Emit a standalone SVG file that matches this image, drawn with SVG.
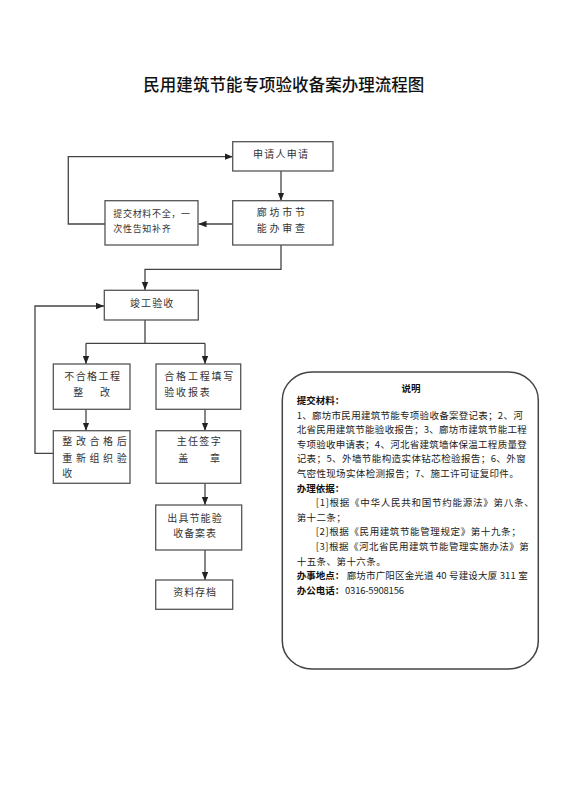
<svg xmlns="http://www.w3.org/2000/svg" width="565" height="800" viewBox="0 0 565 800">
<style>
text{font-family:"Noto Sans CJK SC","Noto Sans",sans-serif;fill:#333}
.t{font-size:16.5px;fill:#111;font-weight:500}
.b{font-size:10px}
.s{font-size:9px}
.n{font-size:9.5px;fill:#222}
.nb{font-size:9.5px;fill:#111;font-weight:bold}
.box{fill:#fff;stroke:#555;stroke-width:1.3}
.ln{fill:none;stroke:#444;stroke-width:1.3}
</style>
<defs>
<marker id="ah" viewBox="0 0 8 8" refX="8" refY="4" markerWidth="8" markerHeight="8" markerUnits="userSpaceOnUse" orient="auto">
<path d="M0,0.8 L8,4 L0,7.2 Z" fill="#222"/>
</marker>
</defs>
<rect width="565" height="800" fill="#fff"/>
<text class="t" x="143.3" y="91" textLength="281" lengthAdjust="spacing">民用建筑节能专项验收备案办理流程图</text>

<g id="connectors">
<path class="ln" d="M281,171 V200.7" marker-end="url(#ah)"/>
<path class="ln" d="M233,224 H198.5" marker-end="url(#ah)"/>
<path class="ln" d="M105,224 H68.3 V156.7 H232.7" marker-end="url(#ah)"/>
<path class="ln" d="M281,245 V269.3 H145 V290" marker-end="url(#ah)"/>
<path class="ln" d="M145,320 V343.3 M86,343.3 H205"/>
<path class="ln" d="M86,343.3 V364" marker-end="url(#ah)"/>
<path class="ln" d="M205,343.3 V364" marker-end="url(#ah)"/>
<path class="ln" d="M86,409.3 V430.7" marker-end="url(#ah)"/>
<path class="ln" d="M205,409.3 V430.7" marker-end="url(#ah)"/>
<path class="ln" d="M53.3,453.3 H35 V306 H104" marker-end="url(#ah)"/>
<path class="ln" d="M205,483.3 V505" marker-end="url(#ah)"/>
<path class="ln" d="M205,550 V580" marker-end="url(#ah)"/>
</g>

<g id="n-apply">
<rect class="box" x="232.7" y="141.7" width="100.3" height="29.3"/>
<text class="b" x="253" y="157.8" letter-spacing="1.25">申请人申请</text>
</g>
<g id="n-review">
<rect class="box" x="232.7" y="200.7" width="100.3" height="44.3"/>
<text class="b" x="256.7" y="216" letter-spacing="2.8">廊坊市节</text>
<text class="b" x="256.7" y="232.3" letter-spacing="2.8">能办审查</text>
</g>
<g id="n-supplement">
<rect class="box" x="105" y="200.7" width="93" height="44.3"/>
<text class="s" x="113.3" y="216.7" letter-spacing="0.67">提交材料不全，一</text>
<text class="s" x="113.3" y="231.7" letter-spacing="0.67">次性告知补齐</text>
</g>
<g id="n-acceptance">
<rect class="box" x="104.3" y="290.3" width="94" height="29.7"/>
<text class="b" x="130" y="306.5" letter-spacing="1.1">竣工验收</text>
</g>
<g id="n-fail">
<rect class="box" x="53.3" y="364" width="76.7" height="45.3"/>
<text class="b" x="64.3" y="379.8" letter-spacing="1.4">不合格工程</text>
<text class="b" x="73.3" y="395.5">整</text>
<text class="b" x="100" y="395.5">改</text>
</g>
<g id="n-pass">
<rect class="box" x="156" y="364" width="84.7" height="45.3"/>
<text class="b" x="164.3" y="379.8" letter-spacing="1.8">合格工程填写</text>
<text class="b" x="164.3" y="395.5" letter-spacing="1.8">验收报表</text>
</g>
<g id="n-rectify">
<rect class="box" x="53.3" y="430.7" width="76.7" height="52.6"/>
<text class="b" x="62.3" y="444.8" letter-spacing="3.6">整改合格后</text>
<text class="b" x="62.3" y="462" letter-spacing="3.6">重新组织验</text>
<text class="b" x="62.3" y="477" letter-spacing="3.6">收</text>
</g>
<g id="n-sign">
<rect class="box" x="156" y="430.7" width="84.7" height="52.6"/>
<text class="b" x="176.7" y="444.8" letter-spacing="1.33">主任签字</text>
<text class="b" x="178.3" y="462">盖</text>
<text class="b" x="210" y="462">章</text>
</g>
<g id="n-issue">
<rect class="box" x="155.7" y="505" width="86" height="45"/>
<text class="b" x="167.3" y="522" letter-spacing="1.1">出具节能验</text>
<text class="b" x="173.3" y="536.5" letter-spacing="0.9">收备案表</text>
</g>
<g id="n-archive">
<rect class="box" x="155.7" y="580" width="77" height="29.3"/>
<text class="b" x="173.3" y="595.5" letter-spacing="0.9">资料存档</text>
</g>

<g id="n-notes">
<rect x="282.3" y="372" width="256" height="297" rx="30" ry="28" fill="#fff" stroke="#444" stroke-width="1.5"/>
<text class="nb" x="411" y="391.8" text-anchor="middle">说明</text>
<text class="nb" x="296.7" y="404">提交材料：</text>
<text class="n" x="296.7" y="418.6" textLength="226" lengthAdjust="spacing">1、廊坊市民用建筑节能专项验收备案登记表；2、河</text>
<text class="n" x="296.7" y="433.2" textLength="230" lengthAdjust="spacing">北省民用建筑节能验收报告；3、廊坊市建筑节能工程</text>
<text class="n" x="296.7" y="447.8" textLength="230" lengthAdjust="spacing">专项验收申请表；4、河北省建筑墙体保温工程质量登</text>
<text class="n" x="296.7" y="462.4" textLength="229" lengthAdjust="spacing">记表；5、外墙节能构造实体钻芯检验报告；6、外窗</text>
<text class="n" x="296.7" y="477" textLength="222" lengthAdjust="spacing">气密性现场实体检测报告；7、施工许可证复印件。</text>
<text class="nb" x="296.7" y="491.6">办理依据：</text>
<text class="n" x="315.7" y="506.2" textLength="218" lengthAdjust="spacing">[1]根据《中华人民共和国节约能源法》第八条、</text>
<text class="n" x="296.7" y="520.8" textLength="49" lengthAdjust="spacing">第十二条；</text>
<text class="n" x="315.7" y="535.4" textLength="205" lengthAdjust="spacing">[2]根据《民用建筑节能管理规定》第十九条；</text>
<text class="n" x="315.7" y="550" textLength="213" lengthAdjust="spacing">[3]根据《河北省民用建筑节能管理实施办法》第</text>
<text class="n" x="296.7" y="564.6" textLength="89" lengthAdjust="spacing">十五条、第十六条。</text>
<text class="nb" x="296.7" y="579.2">办事地点：</text>
<text class="n" x="346.7" y="579.2" textLength="181" lengthAdjust="spacing">廊坊市广阳区金光道 40 号建设大厦 311 室</text>
<text class="nb" x="296.7" y="593.8">办公电话：</text>
<text class="n" x="345" y="593.8" textLength="59" lengthAdjust="spacing">0316-5908156</text>
</g>
</svg>
